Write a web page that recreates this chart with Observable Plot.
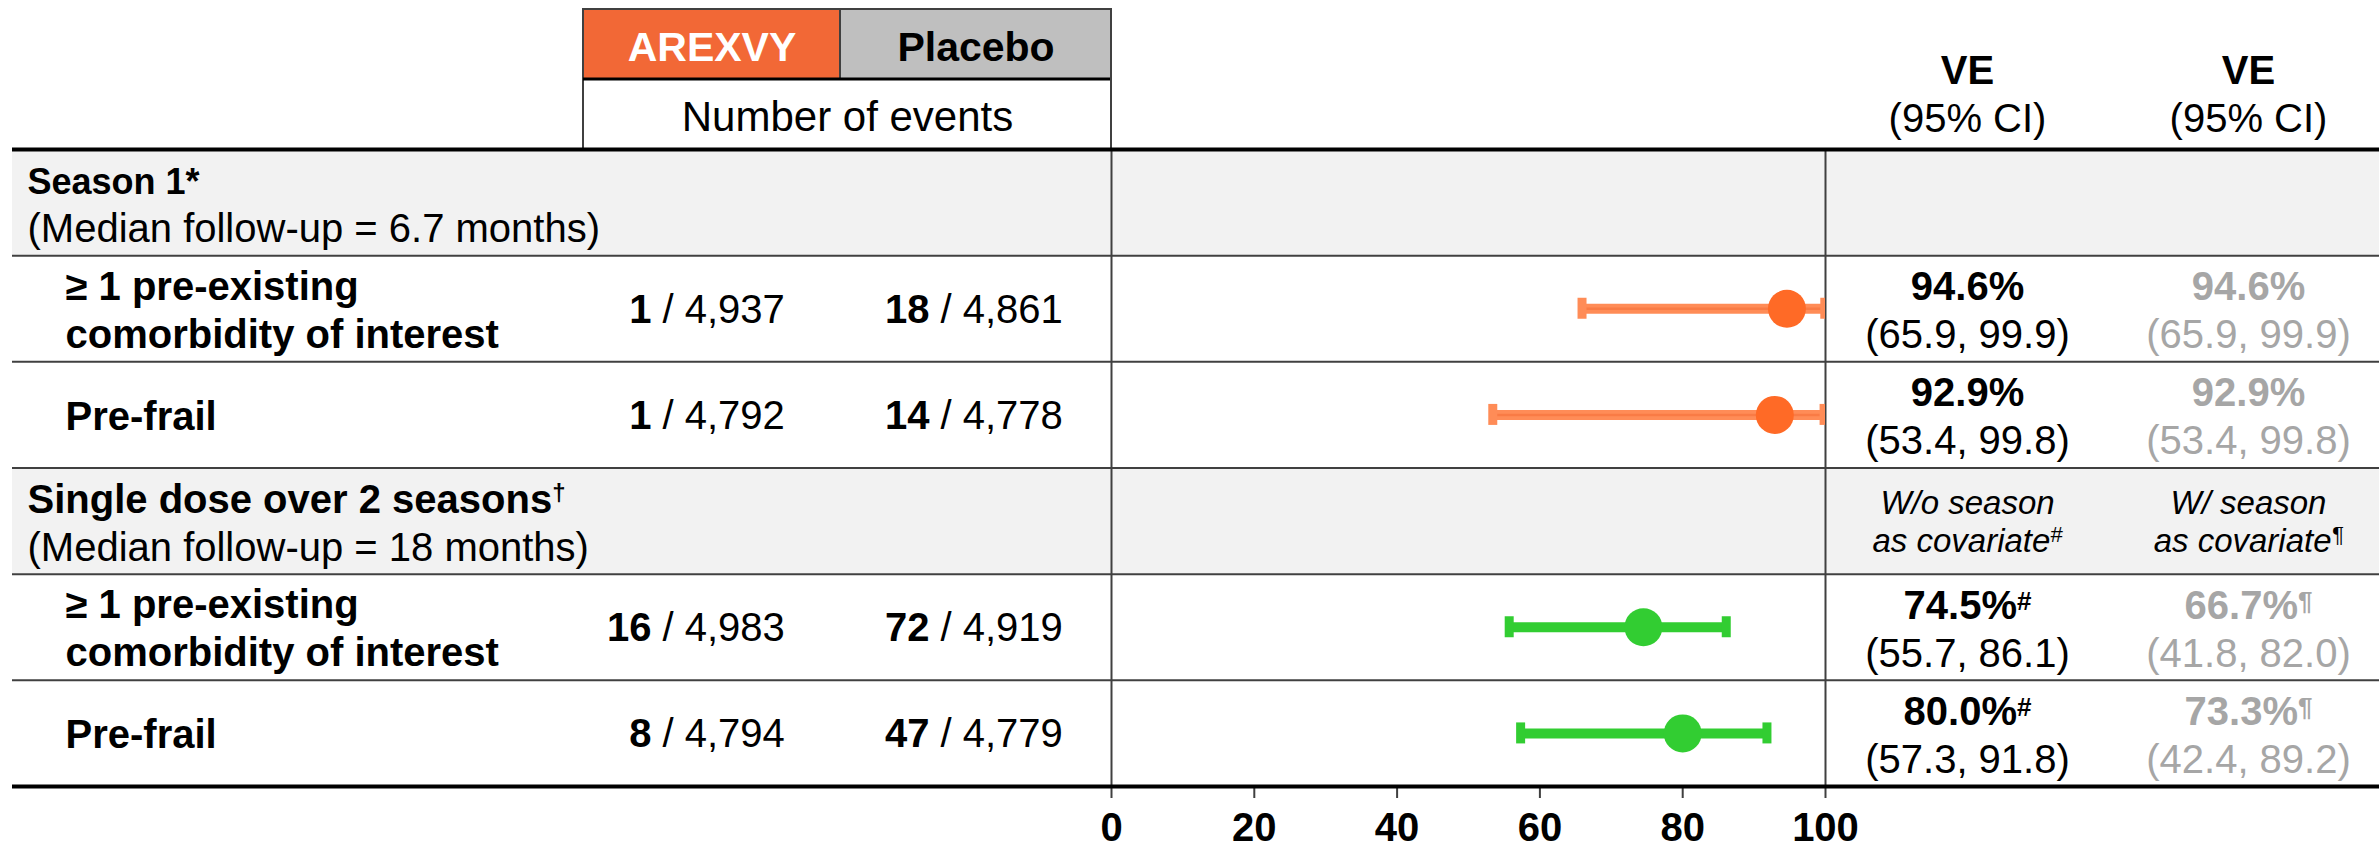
<!DOCTYPE html>
<html>
<head>
<meta charset="utf-8">
<script src="https://cdn.jsdelivr.net/npm/d3@7"></script>
<script src="https://cdn.jsdelivr.net/npm/@observablehq/plot@0.6"></script>
<style>
  html, body { margin: 0; padding: 0; background: #fff; }
  #chart svg { display: block; }
  #chart [aria-label="x-axis tick"] { color: #404040; }
  #chart [aria-label="x-axis tick label"] { font-weight: bold; }
</style>
</head>
<body>
<div id="chart"></div>
<script>
// ---------------- data ----------------
const sectionTitles = ["Season 1", "Single dose over 2 seasons"];
const sectionMarks = ["*", "\u2020"];
const sectionFollowUp = ["(Median follow-up = 6.7 months)", "(Median follow-up = 18 months)"];
const subgroupLabels = ["\u2265 1 pre-existing\ncomorbidity of interest", "Pre-frail", "\u2265 1 pre-existing\ncomorbidity of interest", "Pre-frail"];
const subgroupSection = [0, 0, 1, 1];
const arexvyEvents = [1, 1, 16, 8];
const arexvyTotal = [4937, 4792, 4983, 4794];
const placeboEvents = [18, 14, 72, 47];
const placeboTotal = [4861, 4778, 4919, 4779];
const ve = [94.6, 92.9, 74.5, 80.0];
const veLow = [65.9, 53.4, 55.7, 57.3];
const veHigh = [99.9, 99.8, 86.1, 91.8];
const veNote = ["", "", "#", "#"];
const veAdj = [94.6, 92.9, 66.7, 73.3];
const veAdjLow = [65.9, 53.4, 41.8, 42.4];
const veAdjHigh = [99.9, 99.8, 82.0, 89.2];
const veAdjNote = ["", "", "\u00B6", "\u00B6"];
const groupNames = ["AREXVY", "Placebo"];
const eventsHeader = "Number of events";
const veHeader = ["VE", "(95% CI)"];
const covariateHeaders = [["W/o season", "as covariate", "#"], ["W/ season", "as covariate", "\u00B6"]];
const xTicks = [0, 20, 40, 60, 80, 100];

// ---------------- layout & style ----------------
const FONT = "'Liberation Sans', Arial, Helvetica, sans-serif";
const W = 2379, H = 850;
const M = {left: 1111, right: 554, top: 149, bottom: 64};
const frameR = W - M.right, frameB = H - M.bottom;
const L = {
  tableLeft: 12, titleX: 27, subX: 65,
  titleSize: [36, 40], markSize: [36, 24], markRaise: [0, 12],
  groupX: [711.5, 975.5], groupBase: 60, eventsX: 847, eventsBase: 130,
  veBase: 83, ciBase: 131,
  countSplit: [651, 929], slashGap: 11,
  veX: [1967, 2248],
  line1: -8.5, line2: 39.5, single: 14,
  capHalf: 10.5, capW: 9, barW: 10, dotR: 19
};
const colors = {
  arexvy: "#F26836", placebo: "#BFBFBF", band: "#F2F2F2", rule: "#404040", adj: "#A6A6A6",
  bar: ["#FF8C57", "#32CD32"], barCore: "#F97B45", dot: ["#FF6A26", "#32CD32"]
};

// ---------------- table rows ----------------
const rows = [];
sectionTitles.forEach((title, s) => {
  rows.push({kind: "section", s, title, mark: sectionMarks[s], follow: sectionFollowUp[s]});
  subgroupLabels.forEach((label, k) => {
    if (subgroupSection[k] !== s) return;
    rows.push({kind: "sub", s, k, label,
      ae: arexvyEvents[k], an: arexvyTotal[k], pe: placeboEvents[k], pn: placeboTotal[k],
      ve: ve[k], lo: veLow[k], hi: veHigh[k], note: veNote[k],
      ve2: veAdj[k], lo2: veAdjLow[k], hi2: veAdjHigh[k], note2: veAdjNote[k]});
  });
});
rows.forEach((r, i) => (r.i = i));
const nRows = rows.length;
const secRows = rows.filter(r => r.kind === "section");
const subRows = rows.filter(r => r.kind === "sub");
const cy = d => d.i + 0.5;
const f1 = d3.format(".1f"), fN = d3.format(",");
const pct = v => f1(v) + "%";
const ci = (a, b) => `(${f1(a)}, ${f1(b)})`;

// ---------------- helpers ----------------
const dxOf = px => px - M.left;
const dyOf = py => py - M.top;
const ctx = document.createElement("canvas").getContext("2d");
const tw = (t, size, weight = "normal", style = "normal") => {
  ctx.font = `${style} ${weight} ${size}px ${FONT}`;
  return ctx.measureText(t).width;
};
function box(x1, y1, x2, y2, fill) {
  return Plot.rect([0], {insetLeft: x1 - M.left, insetRight: frameR - x2, insetTop: y1 - M.top, insetBottom: frameB - y2, fill});
}
function headText(text, x, base, o) {
  return Plot.text([text], {text: d => d, frameAnchor: "top-left", dx: dxOf(x), dy: dyOf(base),
    lineAnchor: "bottom", textAnchor: "middle", fontFamily: FONT, ...o});
}
// text (optionally followed by a superscript) in a table row
function supPair(d, {text, sup = "", x, anchor = "middle", dy, size, weight = "normal", style = "normal",
                     fill = "#000", supSize = 22, supRaise = 9}) {
  const wt = tw(text, size, weight, style), ws = sup ? tw(sup, supSize, weight, style) : 0;
  const start = anchor === "middle" ? x - (wt + ws) / 2 : x;
  const common = {y: cy, frameAnchor: "left", lineAnchor: "bottom", textAnchor: "start",
    fontFamily: FONT, fontWeight: weight, fontStyle: style, fill};
  const out = [Plot.text([d], {...common, text: () => text, dx: dxOf(start), dy, fontSize: size})];
  if (sup) out.push(Plot.text([d], {...common, text: () => sup, dx: dxOf(start + wt), dy: dy - supRaise, fontSize: supSize}));
  return out;
}
const rowText = (data, o) => Plot.text(data, {y: cy, frameAnchor: "left", lineAnchor: "bottom",
  fontFamily: FONT, fontSize: 40, ...o});

const fullWidth = {insetLeft: dxOf(L.tableLeft), insetRight: frameR - W};

const marks = [
  // section bands
  Plot.rect(secRows, {y1: d => d.i, y2: d => d.i + 1, fill: colors.band, ...fullWidth}),
  // group header boxes
  box(583, 9, 840, 79, colors.arexvy),
  box(840, 9, 1111, 79, colors.placebo),
  box(582, 8, 1112, 10, colors.rule),
  box(582, 8, 584, 149, colors.rule),
  box(839, 9, 841, 79, colors.rule),
  box(583, 77.5, 1111, 80.5, "#000"),
  box(1110, 8, 1112, 149, colors.rule),
  // grid
  Plot.ruleY(d3.range(1, nRows), {stroke: colors.rule, strokeWidth: 2, ...fullWidth}),
  Plot.ruleX([0, 100], {stroke: colors.rule, strokeWidth: 2}),
  Plot.axisX({ticks: xTicks, tickSize: 12, tickPadding: 14, tickFormat: d => d, label: null,
    fontSize: 40, fontWeight: "bold", fontFamily: FONT, strokeWidth: 2}),
  Plot.ruleY([0, nRows], {stroke: "#000", strokeWidth: 4, ...fullWidth}),
  // forest plot
  Plot.ruleY(subRows, {y: cy, x1: "lo", x2: "hi", stroke: d => colors.bar[d.s], strokeWidth: L.barW, clip: true}),
  Plot.ruleY(subRows.filter(d => d.s === 0), {y: cy, x1: "lo", x2: "hi", stroke: colors.barCore, strokeWidth: 2.5, clip: true}),
  Plot.ruleX(subRows.flatMap(d => [{...d, v: d.lo}, {...d, v: d.hi}]), {x: "v", y1: cy, y2: cy,
    insetTop: -L.capHalf, insetBottom: -L.capHalf, stroke: d => colors.bar[d.s], strokeWidth: L.capW, clip: true}),
  Plot.dot(subRows, {x: "ve", y: cy, r: L.dotR, fill: d => colors.dot[d.s], clip: true}),
  // header texts
  ...groupNames.map((g, j) => headText(g, L.groupX[j], L.groupBase,
    {fontSize: 41, fontWeight: "bold", fill: j === 0 ? "#fff" : "#000"})),
  headText(eventsHeader, L.eventsX, L.eventsBase, {fontSize: 42}),
  ...L.veX.flatMap(x => [
    headText(veHeader[0], x, L.veBase, {fontSize: 40, fontWeight: "bold"}),
    headText(veHeader[1], x, L.ciBase, {fontSize: 40})
  ]),
  // section rows
  ...secRows.flatMap(d => supPair(d, {text: d.title, sup: d.mark, x: L.titleX, anchor: "start", dy: L.line1,
    size: L.titleSize[d.s], weight: "bold", supSize: L.markSize[d.s], supRaise: L.markRaise[d.s]})),
  rowText(secRows, {text: "follow", dx: dxOf(L.titleX), dy: L.line2, textAnchor: "start"}),
  ...covariateHeaders.flatMap((h, c) => [
    ...supPair(secRows[1], {text: h[0], x: L.veX[c], dy: -7, size: 33, style: "italic"}),
    ...supPair(secRows[1], {text: h[1], sup: h[2], x: L.veX[c], dy: 31, size: 33, style: "italic", supSize: 22, supRaise: 10})
  ]),
  // subgroup rows
  Plot.text(subRows, {y: cy, text: "label", frameAnchor: "left", dx: dxOf(L.subX), dy: -0.5,
    lineAnchor: "middle", lineHeight: 1.2, textAnchor: "start", fontFamily: FONT, fontSize: 40, fontWeight: "bold"}),
  ...[0, 1].flatMap(g => [
    rowText(subRows, {text: d => String(g ? d.pe : d.ae), textAnchor: "end", dx: dxOf(L.countSplit[g]), dy: L.single, fontWeight: "bold"}),
    rowText(subRows, {text: d => "/ " + fN(g ? d.pn : d.an), textAnchor: "start", dx: dxOf(L.countSplit[g] + L.slashGap), dy: L.single})
  ]),
  ...[0, 1].flatMap(c => [
    ...subRows.flatMap(d => supPair(d, {text: pct(c ? d.ve2 : d.ve), sup: c ? d.note2 : d.note, x: L.veX[c],
      dy: L.line1, size: 40, weight: "bold", fill: c ? colors.adj : "#000", supSize: 26, supRaise: 9})),
    rowText(subRows, {text: d => c ? ci(d.lo2, d.hi2) : ci(d.lo, d.hi), textAnchor: "middle",
      dx: dxOf(L.veX[c]), dy: L.line2, fill: c ? colors.adj : "#000"})
  ])
];

const chart = Plot.plot({
  width: W, height: H,
  marginLeft: M.left, marginRight: M.right, marginTop: M.top, marginBottom: M.bottom,
  x: {domain: [0, 100], label: null},
  y: {domain: [0, nRows], reverse: true, axis: null},
  color: {type: "identity"},
  style: {fontFamily: FONT, background: "#fff", overflow: "visible", color: "#000"},
  marks
});
document.getElementById("chart").append(chart);
</script>
</body>
</html>
